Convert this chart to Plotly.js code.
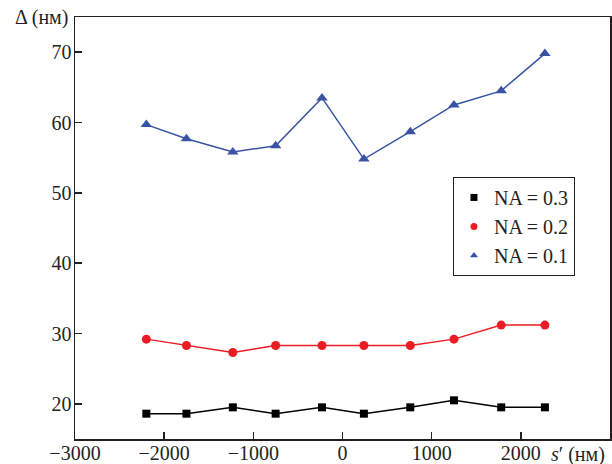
<!DOCTYPE html>
<html>
<head>
<meta charset="utf-8">
<script src="https://cdn.plot.ly/plotly-3.0.1.min.js"></script>
<style>html,body{margin:0;padding:0;background:#fff;}#chart{width:612px;height:464px;}</style>
</head>
<body>
<div id="chart"></div>
<script>
// Data
const sPrime = [-2200, -1750, -1230, -750, -230, 240, 760, 1250, 1780, 2270];
const na03 = [18.6, 18.6, 19.5, 18.6, 19.5, 18.6, 19.5, 20.5, 19.5, 19.5];
const na02 = [29.2, 28.3, 27.3, 28.3, 28.3, 28.3, 28.3, 29.2, 31.2, 31.2];
const na01 = [59.7, 57.7, 55.8, 56.7, 63.5, 54.8, 58.7, 62.5, 64.5, 69.8];
const seriesNames = ['NA = 0.3', 'NA = 0.2', 'NA = 0.1'];
const xTicks = [-3000, -2000, -1000, 0, 1000, 2000];
const xTickText = ['\u22123000', '\u22122000', '\u22121000', '0', '1000', '2000'];
const yTicks = [20, 30, 40, 50, 60, 70];

const colors = ['#000000', '#ec1c24', '#3953a4'];
const symbols = ['square', 'circle', 'triangle-up'];
const sizes = [8, 9, 10];
const ys = [na03, na02, na01];

const traces = [];
ys.forEach((y, i) => {
  traces.push({
    x: sPrime, y: y, type: 'scatter', mode: 'lines+markers',
    line: {color: colors[i], width: 1.5},
    marker: {color: colors[i], symbol: symbols[i], size: sizes[i]},
    showlegend: false, hoverinfo: 'skip'
  });
});
ys.forEach((y, i) => {
  traces.push({
    x: [null], y: [null], type: 'scatter', mode: 'markers',
    name: seriesNames[i],
    marker: {color: colors[i], symbol: symbols[i], size: 7},
    showlegend: true
  });
});

const font = {family: 'Liberation Serif, Times New Roman, serif', size: 20, color: '#231f20'};

const layout = {
  width: 612, height: 464,
  margin: {l: 75, r: 2, t: 17, b: 25},
  paper_bgcolor: '#ffffff', plot_bgcolor: '#ffffff',
  font: font,
  showlegend: true,
  legend: {
    x: 0.7065, y: 0.621, xanchor: 'left', yanchor: 'top',
    bordercolor: '#231f20', borderwidth: 1, bgcolor: '#ffffff',
    font: font, traceorder: 'normal', itemwidth: 30,
    tracegroupgap: 0
  },
  xaxis: {
    range: [-3000, 3000], tickvals: xTicks, ticktext: xTickText,
    ticks: 'inside', ticklen: 7, tickwidth: 1.5, tickcolor: '#231f20',
    showline: true, linecolor: '#231f20', linewidth: 1.5, mirror: true,
    showgrid: false, zeroline: false, tickfont: font, ticklabelstandoff: -5
  },
  yaxis: {
    range: [15, 75], tickvals: yTicks,
    ticks: 'inside', ticklen: 7, tickwidth: 1.5, tickcolor: '#231f20',
    showline: true, linecolor: '#231f20', linewidth: 1.5, mirror: true,
    showgrid: false, zeroline: false, tickfont: font, ticklabelstandoff: -2
  },
  annotations: [
    {text: '\u0394 (нм)', xref: 'paper', yref: 'paper', x: -0.009, y: 0.998,
     xanchor: 'right', yanchor: 'middle', showarrow: false, font: font},
    {text: '<i>s</i>\u2032 (нм)', xref: 'paper', yref: 'paper', x: 0.886, y: -0.036,
     xanchor: 'left', yanchor: 'middle', showarrow: false, font: font}
  ]
};

Plotly.newPlot('chart', traces, layout, {displayModeBar: false, staticPlot: true});
</script>
</body>
</html>
